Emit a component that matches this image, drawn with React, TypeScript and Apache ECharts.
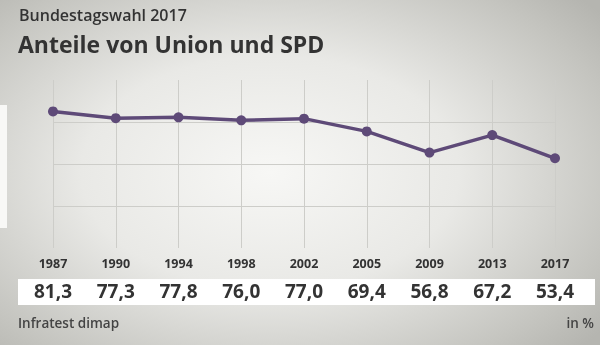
import React, { useEffect, useRef } from "react";
import * as echarts from "echarts";

const years = ["1987", "1990", "1994", "1998", "2002", "2005", "2009", "2013", "2017"];
const shares = [81.3, 77.3, 77.8, 76.0, 77.0, 69.4, 56.8, 67.2, 53.4];
const yTicks = { min: 0, max: 100, interval: 25 };

const FONT = "'Open Sans', 'Noto Sans', sans-serif";
const fmt = (v: number) => v.toFixed(1).replace(".", ",");

export default function App() {
  const ref = useRef<HTMLDivElement>(null);
  useEffect(() => {
    if (!ref.current) return;
    const chart = echarts.init(ref.current, undefined, { renderer: "svg" });
    chart.setOption({
      animation: false,
      backgroundColor: "transparent",
      grid: { left: 53, right: 45, top: 80, bottom: 97 },
      graphic: [
        { type: "rect", left: 0, top: 105, shape: { width: 7, height: 123 }, style: { fill: "#f8f8f6" }, silent: true },
        { type: "rect", left: 18, top: 279, shape: { width: 577, height: 26 }, style: { fill: "#ffffff" }, z: -1, silent: true },
        { type: "text", left: 19, top: 7, style: { text: "Bundestagswahl 2017", font: `600 16px ${FONT}`, fill: "#333333" } },
        { type: "text", left: 18, top: 32, style: { text: "Anteile von Union und SPD", font: `bold 23px ${FONT}`, fill: "#333333" } },
        { type: "text", left: 18, top: 316, style: { text: "Infratest dimap", font: `600 13.5px ${FONT}`, fill: "#444444" } },
        { type: "text", right: 6, top: 316, style: { text: "in %", font: `600 13.5px ${FONT}`, fill: "#444444" } },
      ],
      xAxis: [
        {
          type: "category",
          data: years,
          boundaryGap: false,
          axisLine: { show: false },
          axisTick: { show: false },
          splitLine: { show: true, lineStyle: { color: "#cdcdc9", width: 1 } },
          axisLabel: { margin: 9, fontFamily: FONT, fontWeight: "bold", fontSize: 12.5, color: "#333333" },
        },
        {
          type: "category",
          data: shares.map(fmt),
          boundaryGap: false,
          position: "bottom",
          axisLine: { show: false },
          axisTick: { show: false },
          splitLine: { show: false },
          axisLabel: { margin: 33, fontFamily: FONT, fontWeight: "bold", fontSize: 19, color: "#333333" },
        },
      ],
      yAxis: {
        type: "value",
        min: yTicks.min,
        max: yTicks.max,
        interval: yTicks.interval,
        axisLine: { show: false },
        axisTick: { show: false },
        axisLabel: { show: false },
        splitLine: { show: true, showMinLine: false, showMaxLine: false, lineStyle: { color: "#cdcdc9", width: 1 } },
      },
      series: [
        {
          type: "line",
          data: shares,
          xAxisIndex: 0,
          symbol: "circle",
          symbolSize: 10,
          lineStyle: { color: "#5e4a78", width: 3.5 },
          itemStyle: { color: "#5e4a78" },
        },
      ],
    });
    return () => chart.dispose();
  }, []);
  return (
    <div
      style={{
        position: "fixed",
        left: 0,
        top: 0,
        width: 600,
        height: 345,
        background: "radial-gradient(ellipse 70% 75% at 45% 50%, #f7f7f5 0%, #e9e9e6 45%, #c4c4bf 85%, #b5b5b0 100%)",
      }}
    >
      <div ref={ref} style={{ width: 600, height: 345 }} />
    </div>
  );
}
